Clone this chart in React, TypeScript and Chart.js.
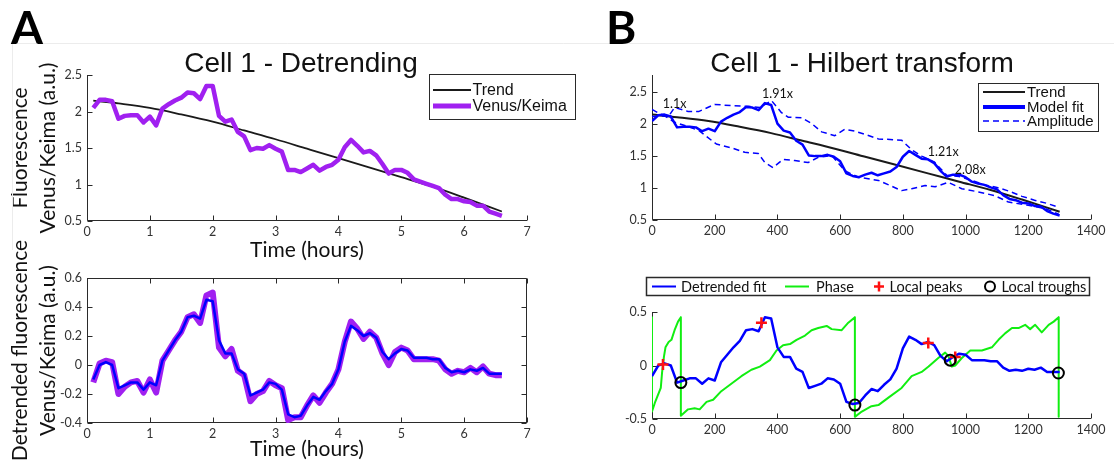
import React, { useEffect, useRef } from 'react';
import { Chart, registerables } from 'chart.js';

Chart.register(...registerables);

// ---------------- Panel A data (time in hours) ----------------
const hours = [0.1, 0.2, 0.3, 0.4, 0.5, 0.6, 0.7, 0.8, 0.9, 1.0, 1.1, 1.2, 1.3, 1.4, 1.5, 1.6, 1.7, 1.8, 1.9, 2.0, 2.1, 2.2, 2.3, 2.4, 2.5, 2.6, 2.7, 2.8, 2.9, 3.0, 3.1, 3.2, 3.3, 3.4, 3.5, 3.6, 3.7, 3.8, 3.9, 4.0, 4.1, 4.2, 4.3, 4.4, 4.5, 4.6, 4.7, 4.8, 4.9, 5.0, 5.1, 5.2, 5.3, 5.4, 5.5, 5.6, 5.7, 5.8, 5.9, 6.0, 6.1, 6.2, 6.3, 6.4, 6.5, 6.6];
const venusKeima = [2.05, 2.16, 2.16, 2.14, 1.90, 1.94, 1.95, 1.95, 1.85, 1.93, 1.81, 2.04, 2.10, 2.15, 2.19, 2.26, 2.25, 2.17, 2.35, 2.35, 1.94, 1.86, 1.89, 1.72, 1.66, 1.47, 1.50, 1.49, 1.54, 1.49, 1.45, 1.20, 1.20, 1.17, 1.22, 1.27, 1.19, 1.24, 1.27, 1.34, 1.51, 1.61, 1.53, 1.44, 1.46, 1.40, 1.28, 1.15, 1.20, 1.20, 1.16, 1.07, 1.04, 1.01, 0.98, 0.95, 0.86, 0.80, 0.80, 0.77, 0.76, 0.71, 0.71, 0.63, 0.60, 0.57];
const trendHours = [0.1, 0.5, 1.0, 1.5, 2.0, 2.5, 3.0, 3.5, 4.0, 4.5, 5.0, 5.5, 6.0, 6.6];
const trendValues = [2.15, 2.11, 2.05, 1.96, 1.86, 1.74, 1.62, 1.49, 1.36, 1.23, 1.10, 0.97, 0.82, 0.63];
const detrendedRaw = [-0.12, 0.01, 0.03, 0.02, -0.20, -0.15, -0.12, -0.11, -0.19, -0.10, -0.19, 0.03, 0.10, 0.17, 0.23, 0.33, 0.35, 0.29, 0.48, 0.50, 0.12, 0.06, 0.11, -0.04, -0.07, -0.25, -0.20, -0.18, -0.11, -0.14, -0.16, -0.38, -0.36, -0.36, -0.28, -0.21, -0.26, -0.19, -0.13, -0.03, 0.16, 0.30, 0.25, 0.18, 0.23, 0.19, 0.08, 0.00, 0.09, 0.12, 0.10, 0.04, 0.04, 0.04, 0.04, 0.03, -0.03, -0.06, -0.04, -0.05, -0.02, -0.05, -0.01, -0.06, -0.07, -0.07];
const detrendedFit = [-0.10, 0.00, 0.02, 0.00, -0.16, -0.14, -0.12, -0.12, -0.17, -0.12, -0.14, 0.03, 0.10, 0.17, 0.23, 0.33, 0.34, 0.32, 0.45, 0.44, 0.17, 0.08, 0.08, -0.03, -0.06, -0.21, -0.19, -0.17, -0.12, -0.13, -0.17, -0.34, -0.36, -0.35, -0.28, -0.22, -0.24, -0.18, -0.13, -0.03, 0.16, 0.27, 0.24, 0.20, 0.22, 0.19, 0.09, 0.04, 0.08, 0.11, 0.10, 0.05, 0.05, 0.05, 0.04, 0.04, -0.02, -0.05, -0.04, -0.05, -0.03, -0.04, -0.02, -0.06, -0.06, -0.06];

// ---------------- Panel B data (frame units) ----------------
const frames = [0, 20, 40, 60, 80, 100, 120, 140, 160, 180, 200, 220, 240, 260, 280, 300, 320, 340, 360, 380, 400, 420, 440, 460, 480, 500, 520, 540, 560, 580, 600, 620, 640, 660, 680, 700, 720, 740, 760, 780, 800, 820, 840, 860, 880, 900, 920, 940, 960, 980, 1000, 1020, 1040, 1060, 1080, 1100, 1120, 1140, 1160, 1180, 1200, 1220, 1240, 1260, 1280, 1300];
const trendFrames = [0, 80, 180, 280, 380, 480, 580, 680, 780, 880, 980, 1080, 1180, 1300];
const modelFit = [2.05, 2.14, 2.15, 2.12, 1.95, 1.96, 1.96, 1.95, 1.89, 1.93, 1.89, 2.04, 2.10, 2.15, 2.19, 2.27, 2.26, 2.22, 2.33, 2.30, 2.01, 1.90, 1.87, 1.74, 1.68, 1.51, 1.50, 1.50, 1.52, 1.49, 1.42, 1.23, 1.19, 1.17, 1.21, 1.24, 1.20, 1.23, 1.26, 1.33, 1.49, 1.58, 1.52, 1.46, 1.45, 1.39, 1.27, 1.18, 1.21, 1.21, 1.17, 1.10, 1.07, 1.05, 1.01, 0.98, 0.89, 0.83, 0.81, 0.77, 0.76, 0.72, 0.71, 0.64, 0.60, 0.57];
const ampUpperX = [0, 30, 55, 72, 115, 150, 200, 253, 307, 344, 381, 413, 434, 477, 509, 541, 583, 615, 647, 679, 722, 796, 828, 860, 900, 940, 980, 1020, 1060, 1100, 1140, 1180, 1220, 1260, 1296];
const ampUpperY = [2.23, 2.15, 2.14, 2.26, 2.20, 2.20, 2.31, 2.29, 2.28, 2.26, 2.37, 2.18, 2.11, 2.10, 2.01, 1.88, 1.82, 1.92, 1.89, 1.84, 1.77, 1.75, 1.60, 1.50, 1.41, 1.20, 1.18, 1.12, 1.05, 1.01, 0.95, 0.87, 0.81, 0.76, 0.70];
const ampLowerX = [0, 40, 72, 110, 150, 205, 253, 296, 339, 360, 386, 418, 455, 498, 530, 573, 615, 658, 722, 796, 828, 871, 903, 945, 988, 1041, 1094, 1137, 1200, 1254, 1297];
const ampLowerY = [2.12, 2.13, 2.03, 1.97, 1.90, 1.69, 1.63, 1.56, 1.54, 1.40, 1.32, 1.45, 1.43, 1.40, 1.48, 1.51, 1.27, 1.17, 1.12, 0.96, 0.99, 1.04, 1.02, 1.09, 0.99, 0.94, 0.88, 0.78, 0.73, 0.68, 0.59];
const foldText = ['1.1x', '1.91x', '1.21x', '2.08x'];
const foldX = [72, 400, 929, 1015];
const foldY = [2.31, 2.47, 1.56, 1.28];
const phaseX = [0, 0, 9, 28, 32, 38, 43, 53, 62, 72, 83, 92, 92, 115, 136, 152, 174, 195, 221, 253, 285, 317, 344, 376, 397, 418, 440, 461, 488, 509, 530, 557, 573, 605, 626, 647, 647, 669, 700, 722, 754, 796, 828, 860, 882, 913, 935, 945, 956, 967, 988, 1015, 1052, 1084, 1105, 1126, 1148, 1169, 1190, 1206, 1222, 1243, 1265, 1281, 1297, 1297];
const phaseY = [0.45, -0.43, -0.35, -0.21, -0.07, 0.08, 0.17, 0.22, 0.24, 0.33, 0.41, 0.45, -0.47, -0.41, -0.40, -0.41, -0.34, -0.32, -0.24, -0.17, -0.10, -0.04, -0.01, 0.05, 0.14, 0.19, 0.20, 0.24, 0.28, 0.33, 0.35, 0.37, 0.34, 0.33, 0.40, 0.45, -0.48, -0.43, -0.38, -0.37, -0.30, -0.21, -0.10, -0.06, -0.01, 0.07, 0.12, 0.09, -0.01, 0.00, 0.07, 0.14, 0.14, 0.17, 0.24, 0.30, 0.35, 0.35, 0.38, 0.34, 0.38, 0.31, 0.38, 0.41, 0.45, -0.48];
const peakX = [35, 349, 881, 967];
const peakY = [0.01, 0.40, 0.21, 0.08];
const troughX = [92, 647, 951, 1296];
const troughY = [-0.16, -0.37, 0.05, -0.07];

// ---------------- styling ----------------
const W = 1114;
const H = 465;
const PURPLE = '#a020f0';
const BLUE = '#0000ff';
const GREEN = '#11ee11';
const AXIS = '#2a2a2a';
const TICK = '#333333';
const TXT = '#111111';
const ARIAL = '"Liberation Sans", Arial, sans-serif';
const HUMAN = 'Lato, "Noto Sans", sans-serif';

const pts = (xs: number[], ys: number[]) => xs.map((x, i) => ({ x, y: ys[i] }));
const fmtTick = (v: number | string) => String(Math.round(Number(v) * 1000) / 1000);

type Txt = { text: string; x: number; y: number; font: string; color?: string; align?: CanvasTextAlign; baseline?: CanvasTextBaseline };
type LegItem = { label: string; kind: 'line' | 'plus' | 'circle'; color: string; width: number; dash?: number[]; x0: number; x1: number; tx: number; y: number };
type Leg = { box: [number, number, number, number]; border: number; font: string; items: LegItem[] };
type Overlay = { box?: boolean; texts?: Txt[]; dataTexts?: { text: string; x: number; y: number }[]; legend?: Leg; frame?: boolean };

function makeOverlay(cfg: Overlay) {
  return {
    id: 'overlay',
    beforeDatasetsDraw(chart: any) {
      const { ctx, chartArea: a } = chart;
      const xs = chart.scales.x;
      const ys = chart.scales.y;
      const l = Math.round(a.left) + 0.5;
      const r = Math.round(a.right) - 0.5;
      const t = Math.round(a.top) + 0.5;
      const b = Math.round(a.bottom) - 0.5;
      const L = 5;
      ctx.save();
      if (cfg.frame) {
        ctx.strokeStyle = '#ececec';
        ctx.lineWidth = 1;
        ctx.beginPath();
        ctx.moveTo(12.5, 250);
        ctx.lineTo(12.5, 43.5);
        ctx.lineTo(W, 43.5);
        ctx.stroke();
      }
      ctx.strokeStyle = AXIS;
      ctx.lineWidth = 1;
      ctx.beginPath();
      ctx.moveTo(l, t - 0.5);
      ctx.lineTo(l, b);
      ctx.lineTo(r + 0.5, b);
      if (cfg.box) {
        ctx.moveTo(l, t);
        ctx.lineTo(r, t);
        ctx.lineTo(r, b);
      }
      for (const tk of xs.ticks) {
        const p = Math.round(xs.getPixelForValue(tk.value)) + 0.5;
        ctx.moveTo(p, b);
        ctx.lineTo(p, b - L);
        if (cfg.box) {
          ctx.moveTo(p, t);
          ctx.lineTo(p, t + L);
        }
      }
      for (const tk of ys.ticks) {
        const p = Math.round(ys.getPixelForValue(tk.value)) + 0.5;
        ctx.moveTo(l, p);
        ctx.lineTo(l + L, p);
        if (cfg.box) {
          ctx.moveTo(r, p);
          ctx.lineTo(r - L, p);
        }
      }
      ctx.stroke();
      ctx.restore();
    },
    afterDraw(chart: any) {
      const ctx: CanvasRenderingContext2D = chart.ctx;
      ctx.save();
      for (const t of cfg.texts || []) {
        ctx.font = t.font;
        ctx.fillStyle = t.color || TXT;
        ctx.textAlign = t.align || 'center';
        ctx.textBaseline = t.baseline || 'alphabetic';
        ctx.fillText(t.text, t.x, t.y);
      }
      for (const t of cfg.dataTexts || []) {
        ctx.font = `12.5px ${HUMAN}`;
        ctx.fillStyle = TXT;
        ctx.textAlign = 'center';
        ctx.textBaseline = 'middle';
        ctx.fillText(t.text, chart.scales.x.getPixelForValue(t.x), chart.scales.y.getPixelForValue(t.y));
      }
      const lg = cfg.legend;
      if (lg) {
        const [x0, y0, x1, y1] = lg.box;
        ctx.fillStyle = '#ffffff';
        ctx.fillRect(x0, y0, x1 - x0, y1 - y0);
        ctx.strokeStyle = AXIS;
        ctx.lineWidth = lg.border;
        ctx.strokeRect(x0, y0, x1 - x0, y1 - y0);
        for (const it of lg.items) {
          ctx.strokeStyle = it.color;
          ctx.lineWidth = it.width;
          ctx.setLineDash(it.dash || []);
          ctx.beginPath();
          if (it.kind === 'line') {
            ctx.moveTo(it.x0, it.y);
            ctx.lineTo(it.x1, it.y);
          } else if (it.kind === 'plus') {
            ctx.moveTo(it.x0 - 5, it.y);
            ctx.lineTo(it.x0 + 5, it.y);
            ctx.moveTo(it.x0, it.y - 5);
            ctx.lineTo(it.x0, it.y + 5);
          } else {
            ctx.arc(it.x0, it.y, 5, 0, Math.PI * 2);
          }
          ctx.stroke();
          ctx.setLineDash([]);
          ctx.font = lg.font;
          ctx.fillStyle = TXT;
          ctx.textAlign = 'left';
          ctx.textBaseline = 'middle';
          ctx.fillText(it.label, it.tx, it.y + 0.5);
        }
      }
      ctx.restore();
    },
  };
}

function axis(min: number, max: number, step: number, size: number, isX: boolean, title?: string | string[]) {
  return {
    type: 'linear' as const,
    min,
    max,
    afterFit: (s: any) => {
      if (isX) s.height = size;
      else s.width = size;
    },
    grid: { display: false, drawTicks: false },
    border: { display: false },
    ticks: {
      stepSize: step,
      includeBounds: false,
      autoSkip: false,
      maxRotation: 0,
      padding: isX ? 3 : 5,
      color: TICK,
      font: { family: HUMAN, size: 12.5 },
      callback: (v: number | string) => fmtTick(v),
    },
    title: title
      ? { display: true, text: title, color: TXT, padding: 0, font: { family: HUMAN, size: 21, lineHeight: 1.3 } }
      : { display: false },
  };
}

function line(label: string, data: any[], color: string, width: number, order: number, extra: any = {}) {
  return { label, data, borderColor: color, backgroundColor: color, borderWidth: width, pointRadius: 0, tension: 0, borderJoinStyle: 'round', order, ...extra };
}

function baseOptions(padding: any, scales: any) {
  return {
    responsive: false,
    animation: false as const,
    devicePixelRatio: 1,
    layout: { padding },
    plugins: { legend: { display: false }, title: { display: false }, tooltip: { enabled: false } },
    scales,
  };
}

function buildATop(c: HTMLCanvasElement) {
  return new Chart(c, {
    type: 'line',
    data: {
      datasets: [
        line('Venus/Keima', pts(hours, venusKeima), PURPLE, 4.5, 0),
        line('Trend', pts(trendHours, trendValues), '#1a1a1a', 1.8, 1, { cubicInterpolationMode: 'monotone' }),
      ],
    },
    options: baseOptions({ left: 7, right: W - 527, top: 75, bottom: H - 221 - 43 }, {
      x: axis(0, 7, 1, 43, true, 'Time (hours)'),
      y: axis(0.5, 2.5, 0.5, 80, false, ['Fluorescence', 'Venus/Keima (a.u.)']),
    }) as any,
    plugins: [makeOverlay({
      frame: true,
      texts: [
        { text: 'A', x: 11, y: 44, font: `bold 46px ${HUMAN}`, align: 'left', color: '#000' },
        { text: 'B', x: 606, y: 44, font: `bold 46px ${HUMAN}`, align: 'left', color: '#000' },
        { text: 'Cell 1 - Detrending', x: 301, y: 72, font: `28px ${ARIAL}` },
        { text: 'Cell 1 - Hilbert transform', x: 862, y: 72, font: `28px ${ARIAL}` },
      ],
      legend: {
        box: [429.5, 74.5, 575.5, 119.5],
        border: 1,
        font: `16px ${ARIAL}`,
        items: [
          { label: 'Trend', kind: 'line', color: '#1a1a1a', width: 1.8, x0: 433, x1: 471, tx: 472.5, y: 90 },
          { label: 'Venus/Keima', kind: 'line', color: PURPLE, width: 5, x0: 433, x1: 471, tx: 472.5, y: 106 },
        ],
      },
    })],
  });
}

function buildABottom(c: HTMLCanvasElement) {
  return new Chart(c, {
    type: 'line',
    data: {
      datasets: [
        line('Detrended fit', pts(hours, detrendedFit), BLUE, 2.5, 0),
        line('Detrended Venus/Keima', pts(hours, detrendedRaw), PURPLE, 6, 1),
      ],
    },
    options: baseOptions({ left: 7, right: W - 527, top: 278, bottom: H - 423 - 40 }, {
      x: axis(0, 7, 1, 40, true, 'Time (hours)'),
      y: axis(-0.4, 0.6, 0.2, 80, false, ['Detrended fluorescence', 'Venus/Keima (a.u.)']),
    }) as any,
    plugins: [makeOverlay({ box: true })],
  });
}

function buildBTop(c: HTMLCanvasElement) {
  return new Chart(c, {
    type: 'line',
    data: {
      datasets: [
        line('Model fit', pts(frames, modelFit), BLUE, 2.5, 0),
        line('Amplitude', pts(ampUpperX, ampUpperY), BLUE, 1.5, 1, { borderDash: [6, 4] }),
        line('Amplitude (lower)', pts(ampLowerX, ampLowerY), BLUE, 1.5, 2, { borderDash: [6, 4] }),
        line('Trend', pts(trendFrames, trendValues), '#1a1a1a', 2, 3, { cubicInterpolationMode: 'monotone' }),
      ],
    },
    options: baseOptions({ left: 600, right: W - 1091, top: 75, bottom: H - 220 - 20 }, {
      x: axis(0, 1400, 200, 20, true),
      y: axis(0.5, 2.77, 0.5, 52, false),
    }) as any,
    plugins: [makeOverlay({
      dataTexts: foldText.map((t, i) => ({ text: t, x: foldX[i], y: foldY[i] })),
      legend: {
        box: [978.5, 83.5, 1098.5, 131.5],
        border: 1,
        font: `15px ${ARIAL}`,
        items: [
          { label: 'Trend', kind: 'line', color: '#1a1a1a', width: 1.8, x0: 983, x1: 1025, tx: 1027, y: 92 },
          { label: 'Model fit', kind: 'line', color: BLUE, width: 4, x0: 983, x1: 1025, tx: 1027, y: 107 },
          { label: 'Amplitude', kind: 'line', color: BLUE, width: 1.5, dash: [6, 4], x0: 983, x1: 1025, tx: 1027, y: 121 },
        ],
      },
    })],
  });
}

function buildBBottom(c: HTMLCanvasElement) {
  return new Chart(c, {
    type: 'line',
    data: {
      datasets: [
        { label: 'Local troughs', data: pts(troughX, troughY), showLine: false, pointStyle: 'circle', pointRadius: 5.5, pointBorderWidth: 2, pointBorderColor: '#000', pointBackgroundColor: 'rgba(0,0,0,0)', borderColor: '#000', order: 0 },
        { label: 'Local peaks', data: pts(peakX, peakY), showLine: false, pointStyle: 'cross', pointRadius: 5.5, pointBorderWidth: 2.5, pointBorderColor: '#ff1010', borderColor: '#ff1010', order: 1 },
        line('Detrended fit', pts(frames, detrendedFit), BLUE, 2.5, 2),
        line('Phase', pts(phaseX, phaseY), GREEN, 2, 3),
      ],
    },
    options: baseOptions({ left: 600, right: W - 1091, top: 312, bottom: H - 419 - 20 }, {
      x: axis(0, 1400, 200, 20, true),
      y: axis(-0.5, 0.5, 0.5, 52, false),
    }) as any,
    plugins: [makeOverlay({
      legend: {
        box: [646.5, 277.5, 1089.5, 295.5],
        border: 1.5,
        font: `14.5px ${HUMAN}`,
        items: [
          { label: 'Detrended fit', kind: 'line', color: BLUE, width: 2, x0: 652, x1: 676, tx: 681, y: 286.5 },
          { label: 'Phase', kind: 'line', color: GREEN, width: 2, x0: 785, x1: 809, tx: 816, y: 286.5 },
          { label: 'Local peaks', kind: 'plus', color: '#ff1010', width: 2.5, x0: 879, x1: 879, tx: 889.5, y: 286.5 },
          { label: 'Local troughs', kind: 'circle', color: '#000', width: 2, x0: 990, x1: 990, tx: 1001.5, y: 286.5 },
        ],
      },
    })],
  });
}

function Layer({ build }: { build: (c: HTMLCanvasElement) => Chart }) {
  const ref = useRef<HTMLCanvasElement>(null);
  useEffect(() => {
    const chart = build(ref.current as HTMLCanvasElement);
    return () => chart.destroy();
  }, [build]);
  return <canvas ref={ref} width={W} height={H} style={{ position: 'absolute', left: 0, top: 0, width: W, height: H }} />;
}

export default function App() {
  useEffect(() => {
    document.body.style.margin = '0';
    document.body.style.background = '#ffffff';
  }, []);
  return (
    <div style={{ position: 'relative', width: W, height: H, background: '#fff', overflow: 'hidden' }}>
      <Layer build={buildATop} />
      <Layer build={buildABottom} />
      <Layer build={buildBTop} />
      <Layer build={buildBBottom} />
    </div>
  );
}
